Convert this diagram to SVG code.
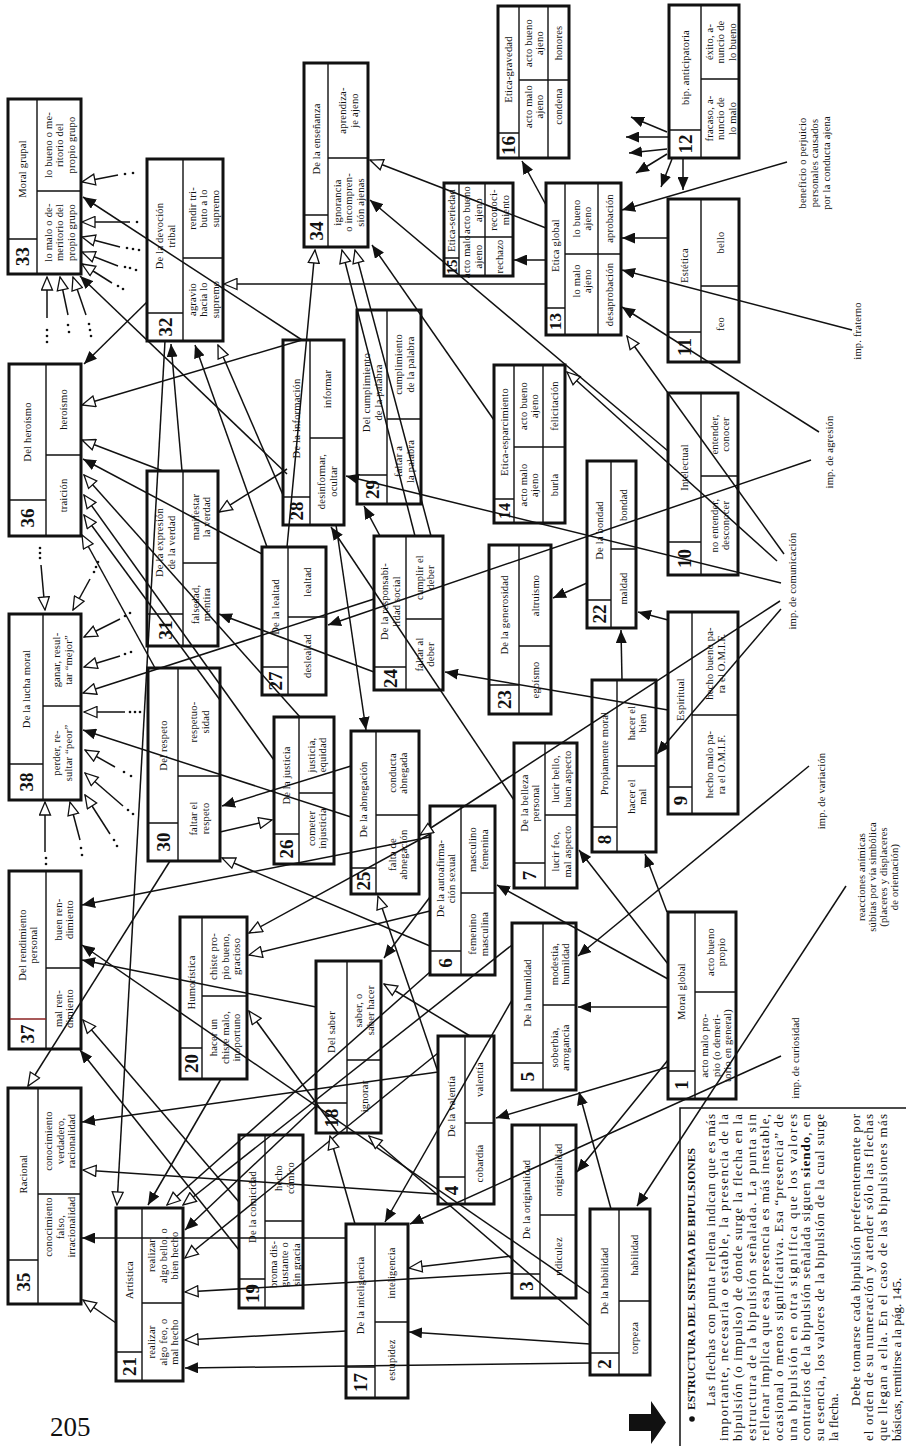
<svg xmlns="http://www.w3.org/2000/svg" width="906" height="1446" viewBox="0 0 906 1446">
<style>
.bx{fill:#fff;stroke:#111;stroke-width:3}
.dv{fill:none;stroke:#111;stroke-width:1.4}
.t,.t tspan{font-family:"Liberation Serif",serif;font-size:10.5px;letter-spacing:0.2px;text-anchor:middle;dominant-baseline:central;fill:#111}
.n{font-size:19px;font-weight:bold;letter-spacing:0}
.c{stroke:#111;stroke-width:1.5;fill:none}
.f{marker-end:url(#af)}
.o{marker-end:url(#ao)}
.p{font-family:"Liberation Serif",serif;font-size:13px;fill:#111}
.hd{font-family:"Liberation Serif",serif;font-size:10.5px;font-weight:bold;fill:#111}
</style>
<defs>
<marker id="af" viewBox="0 0 13 11" markerUnits="userSpaceOnUse" markerWidth="13" markerHeight="11" refX="13" refY="5.5" orient="auto"><path d="M0,0L13,5.5L0,11Z" fill="#111"/></marker>
<marker id="ao" viewBox="-1 -1 15 13" markerUnits="userSpaceOnUse" markerWidth="15" markerHeight="13" refX="13" refY="5.5" orient="auto"><path d="M0,0L13,5.5L0,11Z" fill="#fff" stroke="#111" stroke-width="1.3"/></marker>
</defs>
<rect width="906" height="1446" fill="#fff"/>

<g id="b33"><rect class="bx" x="8" y="99" width="73" height="175"/><path class="dv" d="M37,99V274M8,239H37M37,191H81"/>
<text class="t" transform="translate(22.5,169) rotate(-90)">Moral grupal</text>
<text class="t n" transform="translate(22.5,256.5) rotate(-90)">33</text>
<text class="t" transform="translate(59,145) rotate(-90)"><tspan x="0" y="-11.5">lo bueno o me-</tspan><tspan x="0" y="0">ritorio del</tspan><tspan x="0" y="11.5">propio grupo</tspan></text>
<text class="t" transform="translate(59,232.5) rotate(-90)"><tspan x="0" y="-11.5">lo malo o de-</tspan><tspan x="0" y="0">meritorio del</tspan><tspan x="0" y="11.5">propio grupo</tspan></text></g>

<g id="b32"><rect class="bx" x="147" y="159" width="76" height="182"/><path class="dv" d="M183,159V341M147,313H183M183,258H223"/>
<text class="t" transform="translate(165,236) rotate(-90)"><tspan x="0" y="-5.75">De la devoción</tspan><tspan x="0" y="5.75">tribal</tspan></text>
<text class="t n" transform="translate(165,327) rotate(-90)">32</text>
<text class="t" transform="translate(203,208.5) rotate(-90)"><tspan x="0" y="-11.5">rendir tri-</tspan><tspan x="0" y="0">buto a lo</tspan><tspan x="0" y="11.5">supremo</tspan></text>
<text class="t" transform="translate(203,299.5) rotate(-90)"><tspan x="0" y="-11.5">agravio</tspan><tspan x="0" y="0">hacia lo</tspan><tspan x="0" y="11.5">supremo</tspan></text></g>

<g id="b34"><rect class="bx" x="304" y="63" width="64" height="184"/><path class="dv" d="M328,63V247M304,215H328M328,158H368"/>
<text class="t" transform="translate(316,139) rotate(-90)">De la enseñanza</text>
<text class="t n" transform="translate(316,231) rotate(-90)">34</text>
<text class="t" transform="translate(348,110.5) rotate(-90)"><tspan x="0" y="-5.75">aprendiza-</tspan><tspan x="0" y="5.75">je ajeno</tspan></text>
<text class="t" transform="translate(348,202.5) rotate(-90)"><tspan x="0" y="-11.5">ignorancia</tspan><tspan x="0" y="0">o incompren-</tspan><tspan x="0" y="11.5">sión ajenas</tspan></text></g>

<g id="b16"><rect class="bx" x="498" y="6" width="71" height="152"/><path class="dv" d="M519,6V158M548,6V158M498,133H519M519,80H569"/>
<text class="t" transform="translate(508.5,69.5) rotate(-90)">Etica-gravedad</text>
<text class="t n" transform="translate(508.5,145.5) rotate(-90)">16</text>
<text class="t" transform="translate(533.5,43) rotate(-90)"><tspan x="0" y="-5.75">acto bueno</tspan><tspan x="0" y="5.75">ajeno</tspan></text>
<text class="t" transform="translate(558.5,43) rotate(-90)">honores</text>
<text class="t" transform="translate(533.5,106.5) rotate(-90)"><tspan x="0" y="-5.75">acto malo</tspan><tspan x="0" y="5.75">ajeno</tspan></text>
<text class="t" transform="translate(558.5,106.5) rotate(-90)">condena</text></g>

<g id="b12"><rect class="bx" x="669" y="5" width="70" height="153"/><path class="dv" d="M701,5V158M669,130H701M701,79H739"/>
<text class="t" transform="translate(685,67.5) rotate(-90)">bip. anticipatoria</text>
<text class="t n" transform="translate(685,144) rotate(-90)">12</text>
<text class="t" transform="translate(720,42) rotate(-90)"><tspan x="0" y="-11.5">éxito, a-</tspan><tspan x="0" y="0">nuncio de</tspan><tspan x="0" y="11.5">lo bueno</tspan></text>
<text class="t" transform="translate(720,118.5) rotate(-90)"><tspan x="0" y="-11.5">fracaso, a-</tspan><tspan x="0" y="0">nuncio de</tspan><tspan x="0" y="11.5">lo malo</tspan></text></g>

<g id="b15"><rect class="bx" x="444" y="183" width="69" height="93"/><path class="dv" d="M459,183V276M485,183V276M444,258H459M459,237H513"/>
<text class="t" transform="translate(451.5,220.5) rotate(-90)">Etica-seriedad</text>
<text class="t n" style="font-size:15px" transform="translate(451.5,267) rotate(-90)">15</text>
<text class="t" transform="translate(472,210) rotate(-90)"><tspan x="0" y="-5.75">acto bueno</tspan><tspan x="0" y="5.75">ajeno</tspan></text>
<text class="t" transform="translate(499,210) rotate(-90)"><tspan x="0" y="-5.75">reconoci-</tspan><tspan x="0" y="5.75">miento</tspan></text>
<text class="t" transform="translate(472,256.5) rotate(-90)"><tspan x="0" y="-5.75">acto malo</tspan><tspan x="0" y="5.75">ajeno</tspan></text>
<text class="t" transform="translate(499,256.5) rotate(-90)">rechazo</text></g>

<g id="b13"><rect class="bx" x="546" y="183" width="75" height="152"/><path class="dv" d="M565,183V335M598,183V335M546,308H565M565,254H621"/>
<text class="t" transform="translate(555.5,245.5) rotate(-90)">Etica global</text>
<text class="t n" style="font-size:17px" transform="translate(555.5,321.5) rotate(-90)">13</text>
<text class="t" transform="translate(581.5,218.5) rotate(-90)"><tspan x="0" y="-5.75">lo bueno</tspan><tspan x="0" y="5.75">ajeno</tspan></text>
<text class="t" transform="translate(609.5,218.5) rotate(-90)">aprobación</text>
<text class="t" transform="translate(581.5,281) rotate(-90)"><tspan x="0" y="-5.75">lo malo</tspan><tspan x="0" y="5.75">ajeno</tspan></text>
<text class="t" transform="translate(609.5,294.5) rotate(-90)">desaprobación</text></g>

<g id="b11"><rect class="bx" x="668" y="199" width="71" height="163"/><path class="dv" d="M701,199V362M668,332H701M701,286H739"/>
<text class="t" transform="translate(684.5,265.5) rotate(-90)">Estética</text>
<text class="t n" transform="translate(684.5,347) rotate(-90)">11</text>
<text class="t" transform="translate(720,242.5) rotate(-90)">bello</text>
<text class="t" transform="translate(720,324) rotate(-90)">feo</text></g>

<g id="b36"><rect class="bx" x="9" y="364" width="72" height="172"/><path class="dv" d="M46,364V536M9,500H46M46,455H81"/>
<text class="t" transform="translate(27.5,432) rotate(-90)">Del heroísmo</text>
<text class="t n" transform="translate(27.5,518) rotate(-90)">36</text>
<text class="t" transform="translate(63.5,409.5) rotate(-90)">heroísmo</text>
<text class="t" transform="translate(63.5,495.5) rotate(-90)">traición</text></g>

<g id="b31"><rect class="bx" x="147" y="471" width="71" height="175"/><path class="dv" d="M183,471V646M147,614H183M183,563H218"/>
<text class="t" transform="translate(165,542.5) rotate(-90)"><tspan x="0" y="-5.75">De la expresión</tspan><tspan x="0" y="5.75">de la verdad</tspan></text>
<text class="t n" transform="translate(165,630) rotate(-90)">31</text>
<text class="t" transform="translate(200.5,517) rotate(-90)"><tspan x="0" y="-5.75">manifestar</tspan><tspan x="0" y="5.75">la verdad</tspan></text>
<text class="t" transform="translate(200.5,604.5) rotate(-90)"><tspan x="0" y="-5.75">falsedad,</tspan><tspan x="0" y="5.75">mentira</tspan></text></g>

<g id="b28"><rect class="bx" x="283" y="340" width="61" height="185"/><path class="dv" d="M310,340V525M283,497H310M310,438H344"/>
<text class="t" transform="translate(296.5,418.5) rotate(-90)">De la información</text>
<text class="t n" transform="translate(296.5,511) rotate(-90)">28</text>
<text class="t" transform="translate(327,389) rotate(-90)">informar</text>
<text class="t" transform="translate(327,481.5) rotate(-90)"><tspan x="0" y="-5.75">desinformar,</tspan><tspan x="0" y="5.75">ocultar</tspan></text></g>

<g id="b29"><rect class="bx" x="357" y="310" width="64" height="194"/><path class="dv" d="M387,310V504M357,475H387M387,419H421"/>
<text class="t" transform="translate(372,392.5) rotate(-90)"><tspan x="0" y="-5.75">Del cumplimiento</tspan><tspan x="0" y="5.75">de la palabra</tspan></text>
<text class="t n" transform="translate(372,489.5) rotate(-90)">29</text>
<text class="t" transform="translate(404,364.5) rotate(-90)"><tspan x="0" y="-5.75">cumplimiento</tspan><tspan x="0" y="5.75">de la palabra</tspan></text>
<text class="t" transform="translate(404,461.5) rotate(-90)"><tspan x="0" y="-5.75">faltar a</tspan><tspan x="0" y="5.75">la palabra</tspan></text></g>

<g id="b14"><rect class="bx" x="494" y="365" width="71" height="158"/><path class="dv" d="M514,365V523M543,365V523M494,499H514M514,447H565"/>
<text class="t" transform="translate(504,432) rotate(-90)">Etica-esparcimiento</text>
<text class="t n" style="font-size:16px" transform="translate(504,511) rotate(-90)">14</text>
<text class="t" transform="translate(528.5,406) rotate(-90)"><tspan x="0" y="-5.75">acto bueno</tspan><tspan x="0" y="5.75">ajeno</tspan></text>
<text class="t" transform="translate(554,406) rotate(-90)">felicitación</text>
<text class="t" transform="translate(528.5,485) rotate(-90)"><tspan x="0" y="-5.75">acto malo</tspan><tspan x="0" y="5.75">ajeno</tspan></text>
<text class="t" transform="translate(554,485) rotate(-90)">burla</text></g>

<g id="b27"><rect class="bx" x="262" y="547" width="64" height="148"/><path class="dv" d="M288,547V695M262,667H288M288,617H326"/>
<text class="t" transform="translate(275,607) rotate(-90)">De la lealtad</text>
<text class="t n" transform="translate(275,681) rotate(-90)">27</text>
<text class="t" transform="translate(307,582) rotate(-90)">lealtad</text>
<text class="t" transform="translate(307,656) rotate(-90)">deslealtad</text></g>

<g id="b24"><rect class="bx" x="374" y="536" width="69" height="154"/><path class="dv" d="M406,536V690M374,667H406M406,619H443"/>
<text class="t" transform="translate(390,601.5) rotate(-90)"><tspan x="0" y="-5.75">De la responsabi-</tspan><tspan x="0" y="5.75">lidad social</tspan></text>
<text class="t n" transform="translate(390,678.5) rotate(-90)">24</text>
<text class="t" transform="translate(424.5,577.5) rotate(-90)"><tspan x="0" y="-5.75">cumplir el</tspan><tspan x="0" y="5.75">deber</tspan></text>
<text class="t" transform="translate(424.5,654.5) rotate(-90)"><tspan x="0" y="-5.75">faltar al</tspan><tspan x="0" y="5.75">deber</tspan></text></g>

<g id="b23"><rect class="bx" x="489" y="545" width="62" height="169"/><path class="dv" d="M519,545V714M489,685H519M519,646H551"/>
<text class="t" transform="translate(504,615) rotate(-90)">De la generosidad</text>
<text class="t n" transform="translate(504,699.5) rotate(-90)">23</text>
<text class="t" transform="translate(535,595.5) rotate(-90)">altruismo</text>
<text class="t" transform="translate(535,680) rotate(-90)">egoísmo</text></g>

<g id="b22"><rect class="bx" x="587" y="461" width="49" height="167"/><path class="dv" d="M611,461V628M587,600H611M611,549H636"/>
<text class="t" transform="translate(599,530.5) rotate(-90)">De la bondad</text>
<text class="t n" transform="translate(599,614) rotate(-90)">22</text>
<text class="t" transform="translate(623.5,505) rotate(-90)">bondad</text>
<text class="t" transform="translate(623.5,588.5) rotate(-90)">maldad</text></g>

<g id="b10"><rect class="bx" x="668" y="393" width="70" height="182"/><path class="dv" d="M701,393V575M668,542H701M701,476H738"/>
<text class="t" transform="translate(684.5,467.5) rotate(-90)">Intelectual</text>
<text class="t n" transform="translate(684.5,558.5) rotate(-90)">10</text>
<text class="t" transform="translate(719.5,434.5) rotate(-90)"><tspan x="0" y="-5.75">entender,</tspan><tspan x="0" y="5.75">conocer</tspan></text>
<text class="t" transform="translate(719.5,525.5) rotate(-90)"><tspan x="0" y="-5.75">no entender,</tspan><tspan x="0" y="5.75">desconocer</tspan></text></g>

<g id="b9"><rect class="bx" x="668" y="612" width="70" height="202"/><path class="dv" d="M692,612V814M668,787H692M692,715H738"/>
<text class="t" transform="translate(680,699.5) rotate(-90)">Espiritual</text>
<text class="t n" transform="translate(680,800.5) rotate(-90)">9</text>
<text class="t" transform="translate(715,663.5) rotate(-90)"><tspan x="0" y="-5.75">hecho bueno pa-</tspan><tspan x="0" y="5.75">ra el O.M.I.F.</tspan></text>
<text class="t" transform="translate(715,764.5) rotate(-90)"><tspan x="0" y="-5.75">hecho malo pa-</tspan><tspan x="0" y="5.75">ra el O.M.I.F.</tspan></text></g>

<g id="b8"><rect class="bx" x="592" y="680" width="64" height="172"/><path class="dv" d="M617,680V852M592,827H617M617,766H656"/>
<text class="t" transform="translate(604.5,753.5) rotate(-90)">Propiamente moral</text>
<text class="t n" transform="translate(604.5,839.5) rotate(-90)">8</text>
<text class="t" transform="translate(636.5,723) rotate(-90)"><tspan x="0" y="-5.75">hacer el</tspan><tspan x="0" y="5.75">bien</tspan></text>
<text class="t" transform="translate(636.5,796.5) rotate(-90)"><tspan x="0" y="-5.75">hacer el</tspan><tspan x="0" y="5.75">mal</tspan></text></g>

<g id="b38"><rect class="bx" x="9" y="614" width="72" height="186"/><path class="dv" d="M43,614V800M9,764H43M43,706H81"/>
<text class="t" transform="translate(26,689) rotate(-90)">De la lucha moral</text>
<text class="t n" transform="translate(26,782) rotate(-90)">38</text>
<text class="t" transform="translate(62,660) rotate(-90)"><tspan x="0" y="-5.75">ganar, resul-</tspan><tspan x="0" y="5.75">tar “mejor”</tspan></text>
<text class="t" transform="translate(62,753) rotate(-90)"><tspan x="0" y="-5.75">perder, re-</tspan><tspan x="0" y="5.75">sultar “peor”</tspan></text></g>

<g id="b30"><rect class="bx" x="148" y="668" width="72" height="193"/><path class="dv" d="M178,668V861M148,823H178M178,776H220"/>
<text class="t" transform="translate(163,745.5) rotate(-90)">Del respeto</text>
<text class="t n" transform="translate(163,842) rotate(-90)">30</text>
<text class="t" transform="translate(199,722) rotate(-90)"><tspan x="0" y="-5.75">respetuo-</tspan><tspan x="0" y="5.75">sidad</tspan></text>
<text class="t" transform="translate(199,818.5) rotate(-90)"><tspan x="0" y="-5.75">faltar el</tspan><tspan x="0" y="5.75">respeto</tspan></text></g>

<g id="b26"><rect class="bx" x="274" y="717" width="60" height="147"/><path class="dv" d="M299,717V864M274,834H299M299,793H334"/>
<text class="t" transform="translate(286.5,775.5) rotate(-90)">De la justicia</text>
<text class="t n" transform="translate(286.5,849) rotate(-90)">26</text>
<text class="t" transform="translate(316.5,755) rotate(-90)"><tspan x="0" y="-5.75">justicia,</tspan><tspan x="0" y="5.75">equidad</tspan></text>
<text class="t" transform="translate(316.5,828.5) rotate(-90)"><tspan x="0" y="-5.75">cometer</tspan><tspan x="0" y="5.75">injusticia</tspan></text></g>

<g id="b25"><rect class="bx" x="351" y="731" width="68" height="163"/><path class="dv" d="M376,731V894M351,868H376M376,815H419"/>
<text class="t" transform="translate(363.5,799.5) rotate(-90)">De la abnegación</text>
<text class="t n" transform="translate(363.5,881) rotate(-90)">25</text>
<text class="t" transform="translate(397.5,773) rotate(-90)"><tspan x="0" y="-5.75">conducta</tspan><tspan x="0" y="5.75">abnegada</tspan></text>
<text class="t" transform="translate(397.5,854.5) rotate(-90)"><tspan x="0" y="-5.75">falta de</tspan><tspan x="0" y="5.75">abnegación</tspan></text></g>

<g id="b6"><rect class="bx" x="430" y="806" width="65" height="169"/><path class="dv" d="M461,806V975M430,951H461M461,893H495"/>
<text class="t" transform="translate(445.5,878.5) rotate(-90)"><tspan x="0" y="-5.75">De la autoafirma-</tspan><tspan x="0" y="5.75">ción sexual</tspan></text>
<text class="t n" transform="translate(445.5,963) rotate(-90)">6</text>
<text class="t" transform="translate(478,849.5) rotate(-90)"><tspan x="0" y="-5.75">masculino</tspan><tspan x="0" y="5.75">femenina</tspan></text>
<text class="t" transform="translate(478,934) rotate(-90)"><tspan x="0" y="-5.75">femenino</tspan><tspan x="0" y="5.75">masculina</tspan></text></g>

<g id="b7"><rect class="bx" x="514" y="743" width="63" height="145"/><path class="dv" d="M545,743V888M514,863H545M545,815H577"/>
<text class="t" transform="translate(529.5,803) rotate(-90)"><tspan x="0" y="-5.75">De la belleza</tspan><tspan x="0" y="5.75">personal</tspan></text>
<text class="t n" transform="translate(529.5,875.5) rotate(-90)">7</text>
<text class="t" transform="translate(561,779) rotate(-90)"><tspan x="0" y="-5.75">lucir bello,</tspan><tspan x="0" y="5.75">buen aspecto</tspan></text>
<text class="t" transform="translate(561,851.5) rotate(-90)"><tspan x="0" y="-5.75">lucir feo,</tspan><tspan x="0" y="5.75">mal aspecto</tspan></text></g>

<g id="b37"><rect class="bx" x="9" y="871" width="72" height="178"/><path class="dv" d="M46,871V1049M46,968H81"/><path d="M10,1019H46" stroke="#8b2222" stroke-width="1.6"/>
<text class="t" transform="translate(27.5,945) rotate(-90)"><tspan x="0" y="-5.75">Del rendimiento</tspan><tspan x="0" y="5.75">personal</tspan></text>
<text class="t n" transform="translate(27.5,1034) rotate(-90)">37</text>
<text class="t" transform="translate(63.5,919.5) rotate(-90)"><tspan x="0" y="-5.75">buen ren-</tspan><tspan x="0" y="5.75">dimiento</tspan></text>
<text class="t" transform="translate(63.5,1008.5) rotate(-90)"><tspan x="0" y="-5.75">mal ren-</tspan><tspan x="0" y="5.75">dimiento</tspan></text></g>

<g id="b20"><rect class="bx" x="180" y="917" width="67" height="162"/><path class="dv" d="M202,917V1079M180,1048H202M202,996H247"/>
<text class="t" transform="translate(191,982.5) rotate(-90)">Humorística</text>
<text class="t n" transform="translate(191,1063.5) rotate(-90)">20</text>
<text class="t" transform="translate(224.5,956.5) rotate(-90)"><tspan x="0" y="-11.5">chiste pro-</tspan><tspan x="0" y="0">pio bueno,</tspan><tspan x="0" y="11.5">gracioso</tspan></text>
<text class="t" transform="translate(224.5,1037.5) rotate(-90)"><tspan x="0" y="-11.5">hacer un</tspan><tspan x="0" y="0">chiste malo,</tspan><tspan x="0" y="11.5">inoportuno</tspan></text></g>

<g id="b18"><rect class="bx" x="316" y="961" width="65" height="172"/><path class="dv" d="M347,961V1133M316,1103H347M347,1060H381"/>
<text class="t" transform="translate(331.5,1032) rotate(-90)">Del saber</text>
<text class="t n" transform="translate(331.5,1118) rotate(-90)">18</text>
<text class="t" transform="translate(364,1010.5) rotate(-90)"><tspan x="0" y="-5.75">saber, o</tspan><tspan x="0" y="5.75">saber hacer</tspan></text>
<text class="t" transform="translate(364,1096.5) rotate(-90)">ignorar</text></g>

<g id="b5"><rect class="bx" x="512" y="923" width="64" height="167"/><path class="dv" d="M543,923V1090M512,1063H543M543,1005H576"/>
<text class="t" transform="translate(527.5,993) rotate(-90)">De la humildad</text>
<text class="t n" transform="translate(527.5,1076.5) rotate(-90)">5</text>
<text class="t" transform="translate(559.5,964) rotate(-90)"><tspan x="0" y="-5.75">modestia,</tspan><tspan x="0" y="5.75">humildad</tspan></text>
<text class="t" transform="translate(559.5,1047.5) rotate(-90)"><tspan x="0" y="-5.75">soberbia,</tspan><tspan x="0" y="5.75">arrogancia</tspan></text></g>

<g id="b1"><rect class="bx" x="668" y="912" width="68" height="187"/><path class="dv" d="M695,912V1099M668,1071H695M695,992H736"/>
<text class="t" transform="translate(681.5,991.5) rotate(-90)">Moral global</text>
<text class="t n" transform="translate(681.5,1085) rotate(-90)">1</text>
<text class="t" transform="translate(715.5,952) rotate(-90)"><tspan x="0" y="-5.75">acto bueno</tspan><tspan x="0" y="5.75">propio</tspan></text>
<text class="t" transform="translate(715.5,1045.5) rotate(-90)"><tspan x="0" y="-11.5">acto malo pro-</tspan><tspan x="0" y="0">pio (o demeri-</tspan><tspan x="0" y="11.5">torio en general)</tspan></text></g>

<g id="b4"><rect class="bx" x="438" y="1036" width="56" height="168"/><path class="dv" d="M465,1036V1204M438,1177H465M465,1123H494"/>
<text class="t" transform="translate(451.5,1106.5) rotate(-90)">De la valentía</text>
<text class="t n" transform="translate(451.5,1190.5) rotate(-90)">4</text>
<text class="t" transform="translate(479.5,1079.5) rotate(-90)">valentía</text>
<text class="t" transform="translate(479.5,1163.5) rotate(-90)">cobardía</text></g>

<g id="b3"><rect class="bx" x="512" y="1125" width="64" height="173"/><path class="dv" d="M540,1125V1298M512,1274H540M540,1215H576"/>
<text class="t" transform="translate(526,1199.5) rotate(-90)">De la originalidad</text>
<text class="t n" transform="translate(526,1286) rotate(-90)">3</text>
<text class="t" transform="translate(558,1170) rotate(-90)">originalidad</text>
<text class="t" transform="translate(558,1256.5) rotate(-90)">ridiculez</text></g>

<g id="b17"><rect class="bx" x="346" y="1224" width="62" height="174"/><path class="dv" d="M375,1224V1398M346,1367H375M375,1322H408"/>
<text class="t" transform="translate(360.5,1295.5) rotate(-90)">De la inteligencia</text>
<text class="t n" transform="translate(360.5,1382.5) rotate(-90)">17</text>
<text class="t" transform="translate(391.5,1273) rotate(-90)">inteligencia</text>
<text class="t" transform="translate(391.5,1360) rotate(-90)">estupidez</text></g>

<g id="b2"><rect class="bx" x="590" y="1209" width="60" height="166"/><path class="dv" d="M619,1209V1375M590,1353H619M619,1301H650"/>
<text class="t" transform="translate(604.5,1281) rotate(-90)">De la habilidad</text>
<text class="t n" transform="translate(604.5,1364) rotate(-90)">2</text>
<text class="t" transform="translate(634.5,1255) rotate(-90)">habilidad</text>
<text class="t" transform="translate(634.5,1338) rotate(-90)">torpeza</text></g>

<g id="b35"><rect class="bx" x="8" y="1088" width="73" height="216"/><path class="dv" d="M38,1088V1304M8,1260H38M38,1194H81"/>
<text class="t" transform="translate(23,1174) rotate(-90)">Racional</text>
<text class="t n" transform="translate(23,1282) rotate(-90)">35</text>
<text class="t" transform="translate(59.5,1141) rotate(-90)"><tspan x="0" y="-11.5">conocimiento</tspan><tspan x="0" y="0">verdadero,</tspan><tspan x="0" y="11.5">racionalidad</tspan></text>
<text class="t" transform="translate(59.5,1227) rotate(-90)"><tspan x="0" y="-11.5">conocimiento</tspan><tspan x="0" y="0">falso,</tspan><tspan x="0" y="11.5">irracionalidad</tspan></text></g>

<g id="b21"><rect class="bx" x="116" y="1208" width="67" height="173"/><path class="dv" d="M142,1208V1381M116,1352H142M142,1303H183"/>
<text class="t" transform="translate(129,1280) rotate(-90)">Artística</text>
<text class="t n" transform="translate(129,1366.5) rotate(-90)">21</text>
<text class="t" transform="translate(162.5,1255.5) rotate(-90)"><tspan x="0" y="-11.5">realizar</tspan><tspan x="0" y="0">algo bello, o</tspan><tspan x="0" y="11.5">bien hecho</tspan></text>
<text class="t" transform="translate(162.5,1342) rotate(-90)"><tspan x="0" y="-11.5">realizar</tspan><tspan x="0" y="0">algo feo, o</tspan><tspan x="0" y="11.5">mal hecho</tspan></text></g>

<g id="b19"><rect class="bx" x="239" y="1135" width="64" height="173"/><path class="dv" d="M265,1135V1308M239,1279H265M265,1221H303"/>
<text class="t" transform="translate(252,1207) rotate(-90)">De la comicidad</text>
<text class="t n" transform="translate(252,1293.5) rotate(-90)">19</text>
<text class="t" transform="translate(284,1178) rotate(-90)"><tspan x="0" y="-5.75">hecho</tspan><tspan x="0" y="5.75">cómico</tspan></text>
<text class="t" transform="translate(284,1264.5) rotate(-90)"><tspan x="0" y="-11.5">broma dis-</tspan><tspan x="0" y="0">gustante o</tspan><tspan x="0" y="11.5">sin gracia</tspan></text></g>

<g id="labels">
<text class="t" transform="translate(814,163) rotate(-90)"><tspan x="0" y="-12">beneficio o perjuicio</tspan><tspan x="0" y="0">personales causados</tspan><tspan x="0" y="12">por la conducta ajena</tspan></text>
<text class="t" transform="translate(857,331) rotate(-90)">imp. fraterno</text>
<text class="t" transform="translate(829,452) rotate(-90)">imp. de agresión</text>
<text class="t" transform="translate(792,581) rotate(-90)">imp. de comunicación</text>
<text class="t" transform="translate(821,791) rotate(-90)">imp. de variación</text>
<text class="t" transform="translate(877.5,877) rotate(-90)"><tspan x="0" y="-16.5">reacciones anímicas</tspan><tspan x="0" y="-5.5">súbitas por vía simbólica</tspan><tspan x="0" y="5.5">(placeres y displaceres</tspan><tspan x="0" y="16.5">de orientación)</tspan></text>
<text class="t" transform="translate(795,1058) rotate(-90)">imp. de curiosidad</text>
</g>

<g id="connectors">
<line class="c f" x1="302" y1="340" x2="83" y2="197"/>
<line class="c o" x1="302" y1="340" x2="82" y2="405"/>
<line class="c f" x1="287" y1="474" x2="80" y2="276"/>
<line class="c f" x1="147" y1="302" x2="84" y2="364"/>
<line class="c o" x1="546" y1="284" x2="224" y2="284"/>
<line class="c o" x1="546" y1="228" x2="370" y2="160"/>
<line class="c f" x1="546" y1="205" x2="522" y2="161"/>
<line class="c f" x1="546" y1="260" x2="514" y2="260"/>
<line class="c f" x1="668" y1="238" x2="622" y2="238"/>
<line class="c f" x1="787" y1="162" x2="622" y2="210"/>
<line class="c f" x1="852" y1="330" x2="622" y2="270"/>
<line class="c f" x1="667" y1="132" x2="631" y2="117"/>
<line class="c f" x1="669" y1="137" x2="626" y2="137"/>
<line class="c f" x1="667" y1="149" x2="629" y2="153"/>
<line class="c f" x1="667" y1="154" x2="636" y2="173"/>
<line class="c f" x1="672" y1="159" x2="661" y2="187"/>
<line class="c f" x1="683" y1="159" x2="683" y2="190"/>
<line class="c f" x1="819" y1="432" x2="622" y2="307"/>
<line class="c o" x1="784" y1="554" x2="627" y2="336"/>
<line class="c o" x1="777" y1="561" x2="567" y2="372"/>
<line class="c f" x1="781" y1="583" x2="346" y2="476"/>
<line class="c f" x1="811" y1="460" x2="328" y2="625"/>
<line class="c o" x1="780" y1="601" x2="420" y2="835"/>
<line class="c f" x1="781" y1="609" x2="657" y2="754"/>
<line class="c f" x1="668" y1="451" x2="370" y2="200"/>
<line class="c f" x1="494" y1="420" x2="372" y2="245"/>
<line class="c o" x1="287" y1="547" x2="315" y2="250"/>
<line class="c o" x1="415" y1="536" x2="342" y2="250"/>
<line class="c o" x1="431" y1="536" x2="355" y2="250"/>
<line class="c f" x1="182" y1="471" x2="171" y2="344"/>
<line class="c f" x1="267" y1="547" x2="195" y2="345"/>
<line class="c o" x1="283" y1="495" x2="218" y2="345"/>
<line class="c o" x1="163" y1="471" x2="82" y2="440"/>
<line class="c f" x1="262" y1="554" x2="83" y2="459"/>
<line class="c o" x1="300" y1="717" x2="84" y2="475"/>
<line class="c o" x1="274" y1="760" x2="84" y2="495"/>
<line class="c o" x1="220" y1="700" x2="84" y2="515"/>
<line class="c o" x1="155" y1="668" x2="82" y2="535"/>
<line class="c o" x1="287" y1="469" x2="219" y2="512"/>
<line class="c f" x1="374" y1="672" x2="219" y2="614"/>
<line class="c o" x1="374" y1="599" x2="83" y2="693"/>
<line class="c f" x1="351" y1="817" x2="83" y2="730"/>
<line class="c f" x1="430" y1="837" x2="82" y2="905"/>
<line class="c f" x1="590" y1="1294" x2="82" y2="945"/>
<line class="c f" x1="316" y1="1007" x2="82" y2="960"/>
<line class="c o" x1="239" y1="1202" x2="83" y2="1020"/>
<line class="c f" x1="239" y1="1250" x2="80" y2="1050"/>
<line class="c o" x1="170" y1="861" x2="28" y2="1086"/>
<line class="c f" x1="438" y1="1072" x2="82" y2="1122"/>
<line class="c o" x1="437" y1="1194" x2="83" y2="1170"/>
<line class="c f" x1="346" y1="1238" x2="82" y2="1238"/>
<line class="c o" x1="116" y1="1323" x2="83" y2="1300"/>
<line class="c o" x1="165" y1="341" x2="117" y2="1205"/>
<line class="c f" x1="221" y1="1079" x2="148" y2="1205"/>
<line class="c o" x1="430" y1="972" x2="167" y2="1205"/>
<line class="c o" x1="512" y1="945" x2="183" y2="1205"/>
<line class="c f" x1="316" y1="1106" x2="185" y2="1230"/>
<line class="c o" x1="438" y1="1053" x2="185" y2="1258"/>
<line class="c o" x1="512" y1="1273" x2="185" y2="1292"/>
<line class="c o" x1="346" y1="1331" x2="185" y2="1340"/>
<line class="c f" x1="590" y1="1363" x2="185" y2="1368"/>
<line class="c o" x1="430" y1="834" x2="249" y2="933"/>
<line class="c o" x1="430" y1="911" x2="249" y2="955"/>
<line class="c o" x1="338" y1="1133" x2="249" y2="1011"/>
<line class="c o" x1="512" y1="1256" x2="409" y2="1268"/>
<line class="c f" x1="590" y1="1344" x2="409" y2="1332"/>
<line class="c f" x1="512" y1="1000" x2="385" y2="1222"/>
<line class="c o" x1="355" y1="1224" x2="330" y2="1136"/>
<line class="c o" x1="590" y1="1326" x2="369" y2="1136"/>
<line class="c f" x1="668" y1="1067" x2="496" y2="1118"/>
<line class="c f" x1="668" y1="1060" x2="577" y2="1172"/>
<line class="c f" x1="846" y1="886" x2="637" y2="1206"/>
<line class="c f" x1="611" y1="1209" x2="579" y2="1092"/>
<line class="c f" x1="668" y1="964" x2="579" y2="850"/>
<line class="c f" x1="668" y1="979" x2="497" y2="885"/>
<line class="c f" x1="809" y1="766" x2="578" y2="956"/>
<line class="c f" x1="781" y1="1056" x2="410" y2="1224"/>
<line class="c f" x1="622" y1="680" x2="621" y2="630"/>
<line class="c f" x1="668" y1="620" x2="638" y2="612"/>
<line class="c f" x1="587" y1="583" x2="553" y2="598"/>
<line class="c f" x1="668" y1="710" x2="445" y2="672"/>
<line class="c f" x1="514" y1="800" x2="331" y2="527"/>
<line class="c f" x1="380" y1="536" x2="364" y2="506"/>
<line class="c f" x1="336" y1="525" x2="366" y2="730"/>
<line class="c o" x1="438" y1="1072" x2="378" y2="896"/>
<line class="c f" x1="430" y1="897" x2="384" y2="958"/>
<line class="c o" x1="470" y1="1036" x2="384" y2="984"/>
<line class="c f" x1="667" y1="912" x2="645" y2="854"/>
<line class="c f" x1="668" y1="1007" x2="578" y2="1007"/>
<line class="c o" x1="220" y1="832" x2="272" y2="820"/>
<line class="c f" x1="351" y1="766" x2="222" y2="806"/>
<line class="c o" x1="430" y1="946" x2="222" y2="858"/>
<line class="c o" x1="118" y1="175" x2="82" y2="182"/>
<line class="c o" x1="130" y1="222" x2="82" y2="222"/>
<line class="c o" x1="120" y1="247" x2="82" y2="237"/>
<line class="c o" x1="118" y1="266" x2="82" y2="252"/>
<line class="c o" x1="112" y1="283" x2="82" y2="264"/>
<line class="c o" x1="47" y1="318" x2="47" y2="277"/>
<line class="c o" x1="68" y1="315" x2="60" y2="277"/>
<line class="c o" x1="86" y1="315" x2="73" y2="277"/>
<line class="c o" x1="41" y1="565" x2="45" y2="610"/>
<line class="c o" x1="90" y1="579" x2="73" y2="610"/>
<line class="c o" x1="120" y1="619" x2="84" y2="637"/>
<line class="c o" x1="120" y1="656" x2="84" y2="667"/>
<line class="c o" x1="125" y1="712" x2="84" y2="712"/>
<line class="c o" x1="115" y1="767" x2="85" y2="750"/>
<line class="c o" x1="123" y1="806" x2="85" y2="773"/>
<line class="c o" x1="110" y1="834" x2="85" y2="795"/>
<line class="c o" x1="45" y1="852" x2="45" y2="802"/>
<line class="c o" x1="80" y1="840" x2="70" y2="802"/>
<g fill="#111">
<circle cx="125" cy="174" r="1.3"/><circle cx="133" cy="173" r="1.3"/>
<circle cx="137" cy="222" r="1.3"/>
<circle cx="127" cy="248" r="1.3"/><circle cx="133" cy="249" r="1.3"/><circle cx="139" cy="250" r="1.3"/>
<circle cx="125" cy="267" r="1.3"/><circle cx="130" cy="268" r="1.3"/><circle cx="136" cy="270" r="1.3"/>
<circle cx="118" cy="286" r="1.3"/><circle cx="123" cy="289" r="1.3"/>
<circle cx="47" cy="330" r="1.3"/><circle cx="47" cy="336" r="1.3"/><circle cx="47" cy="342" r="1.3"/>
<circle cx="68" cy="325" r="1.3"/><circle cx="69" cy="332" r="1.3"/>
<circle cx="89" cy="324" r="1.3"/><circle cx="90" cy="330" r="1.3"/><circle cx="91" cy="336" r="1.3"/>
<circle cx="40" cy="548" r="1.3"/><circle cx="40" cy="553" r="1.3"/><circle cx="40" cy="558" r="1.3"/>
<circle cx="98" cy="562" r="1.3"/><circle cx="96" cy="567" r="1.3"/><circle cx="94" cy="572" r="1.3"/>
<circle cx="125" cy="616" r="1.3"/><circle cx="130" cy="613" r="1.3"/>
<circle cx="125" cy="654" r="1.3"/><circle cx="131" cy="652" r="1.3"/>
<circle cx="130" cy="712" r="1.3"/><circle cx="135" cy="712" r="1.3"/><circle cx="140" cy="712" r="1.3"/>
<circle cx="124" cy="772" r="1.3"/><circle cx="131" cy="776" r="1.3"/>
<circle cx="128" cy="810" r="1.3"/><circle cx="133" cy="814" r="1.3"/>
<circle cx="114" cy="840" r="1.3"/><circle cx="117" cy="846" r="1.3"/>
<circle cx="46" cy="858" r="1.3"/><circle cx="46" cy="864" r="1.3"/>
<circle cx="81" cy="848" r="1.3"/><circle cx="82" cy="855" r="1.3"/>
</g>
</g>

<g id="note">
<rect x="680" y="1108" width="240" height="350" fill="none" stroke="#111" stroke-width="1.5"/>
<circle cx="692" cy="1419" r="2.8" fill="#111"/>
<text class="hd" transform="translate(695,1410) rotate(-90)" textLength="262" lengthAdjust="spacingAndGlyphs">ESTRUCTURA DEL SISTEMA DE BIPULSIONES</text>
<text class="p" transform="translate(714.5,1406) rotate(-90)" textLength="292" lengthAdjust="spacing">Las flechas con punta rellena indican que es más</text>
<text class="p" transform="translate(728.2,1441) rotate(-90)" textLength="327" lengthAdjust="spacing">importante, necesaria o estable, la presencia de la</text>
<text class="p" transform="translate(741.9,1441) rotate(-90)" textLength="327" lengthAdjust="spacing">bipulsión (o impulso) de donde surge la flecha en la</text>
<text class="p" transform="translate(755.6,1441) rotate(-90)" textLength="327" lengthAdjust="spacing">estructura de la bipulsión señalada. La punta sin</text>
<text class="p" transform="translate(769.3,1441) rotate(-90)" textLength="327" lengthAdjust="spacing">rellenar implica que esa presencia es más inestable,</text>
<text class="p" transform="translate(783,1441) rotate(-90)" textLength="327" lengthAdjust="spacing">ocasional o menos significativa. Esa “presencia” de</text>
<text class="p" transform="translate(796.7,1441) rotate(-90)" textLength="327" lengthAdjust="spacing">una bipulsión en otra significa que los valores</text>
<text class="p" transform="translate(810.4,1441) rotate(-90)" textLength="327" lengthAdjust="spacing">contrarios de la bipulsión señalada siguen <tspan font-weight="bold">siendo</tspan>, en</text>
<text class="p" transform="translate(824.1,1441) rotate(-90)" textLength="327" lengthAdjust="spacing">su esencia, los valores de la bipulsión de la cual surge</text>
<text class="p" transform="translate(837.8,1441) rotate(-90)">la flecha.</text>
<text class="p" transform="translate(859.5,1406) rotate(-90)" textLength="292" lengthAdjust="spacing">Debe tomarse cada bipulsión preferentemente por</text>
<text class="p" transform="translate(873.2,1441) rotate(-90)" textLength="327" lengthAdjust="spacing">el orden de su numeración y atender sólo las flechas</text>
<text class="p" transform="translate(886.9,1441) rotate(-90)" textLength="327" lengthAdjust="spacing">que llegan a ella. En el caso de las bipulsiones más</text>
<text class="p" transform="translate(900.6,1441) rotate(-90)">básicas, remitirse a la pág. 145.</text>
</g>

<polygon points="629,1414 651,1414 651,1401 666,1422.5 651,1444 651,1431 629,1431" fill="#111"/>
<text x="50" y="1436" font-family="Liberation Serif, serif" font-size="27" fill="#111">205</text>
</svg>
